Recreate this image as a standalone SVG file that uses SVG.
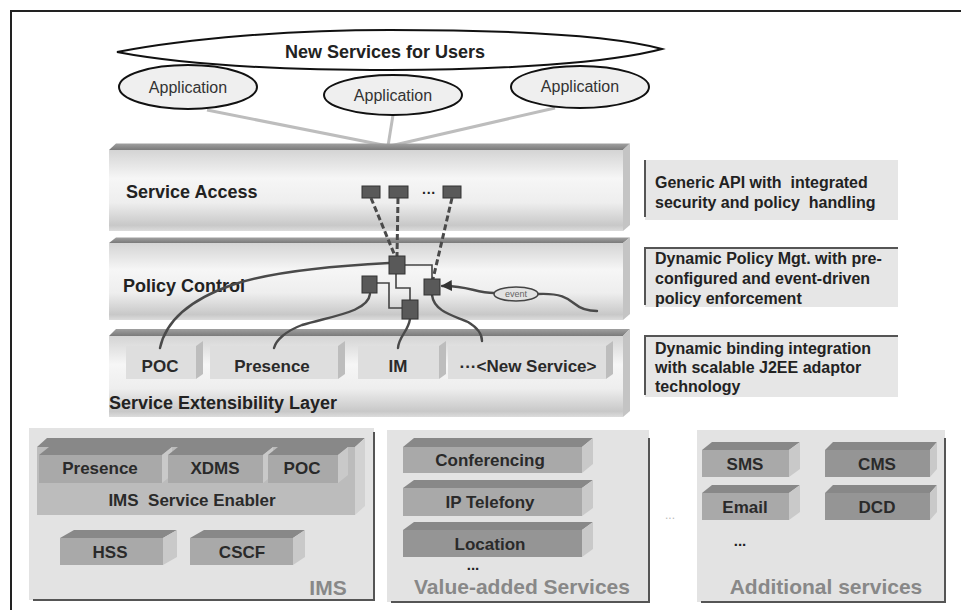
<svg xmlns="http://www.w3.org/2000/svg" width="961" height="610" viewBox="0 0 961 610">
<defs>
<linearGradient id="layerFront" x1="0" y1="0" x2="0" y2="1">
<stop offset="0" stop-color="#d4d4d4"/>
<stop offset="0.35" stop-color="#f6f6f6"/>
<stop offset="0.65" stop-color="#eeeeee"/>
<stop offset="0.93" stop-color="#c8c8c8"/>
<stop offset="1" stop-color="#dcdcdc"/>
</linearGradient>
<linearGradient id="layerTop" x1="0" y1="0" x2="0" y2="1">
<stop offset="0" stop-color="#a0a0a0"/>
<stop offset="1" stop-color="#7a7a7a"/>
</linearGradient>
<marker id="arrowL" viewBox="0 0 10 10" refX="9" refY="5" markerUnits="userSpaceOnUse" markerWidth="11" markerHeight="11" orient="auto">
<path d="M0,0 L10,5 L0,10 Z" fill="#333"/>
</marker>
</defs>
<style>
text { font-family: "Liberation Sans", Arial, sans-serif; }
.b { font-weight: bold; fill: #222; }
.t18 { font-size: 18px; }
.t17 { font-size: 17px; }
.t16 { font-size: 16px; }
.mid { text-anchor: middle; }
.app { fill: #efefef; stroke: #111; stroke-width: 2; }
.appt { font-size: 16px; fill: #333; text-anchor: middle; }
.front { fill: url(#layerFront); }
.topf { fill: url(#layerTop); }
.side { fill: #c4c4c4; }
.sub { fill: #dedede; }
.subside { fill: #bdbdbd; }
.sq { fill: #595959; stroke: #333; stroke-width: 1; }
.dash { fill: none; stroke: #4a4a4a; stroke-width: 3; stroke-dasharray: 6 3; }
.wire { fill: none; stroke: #444; stroke-width: 1.6; }
.wavy { fill: none; stroke: #4a4a4a; stroke-width: 2.4; stroke-linecap: round; }
.feed { fill: none; stroke: #bdbdbd; stroke-width: 3; }
.note { fill: #e6e6e6; }
.noteedge { stroke: #555; stroke-width: 2; fill: none; }
.panel { fill: #e3e3e3; }
.shadow { stroke: #555; stroke-width: 2; fill: none; }
.grey { font-weight: bold; font-size: 21px; fill: #888; text-anchor: middle; }
.sf { fill: #a9a9a9; }
.sfd { fill: #959595; }
.stop { fill: #888; }
.sside { fill: #c9c9c9; }
.sl { font-weight: bold; font-size: 17px; fill: #2a2a2a; text-anchor: middle; }
</style>
<rect width="961" height="610" fill="#fff"/>
<!-- outer frame -->
<path d="M11,610 L11,11 L961,11" fill="none" stroke="#222" stroke-width="2"/>

<!-- feed lines from applications -->
<g id="feeds">
<line class="feed" x1="207" y1="110" x2="388" y2="146"/>
<line class="feed" x1="393" y1="115" x2="388" y2="146"/>
<line class="feed" x1="555" y1="108" x2="390" y2="146"/>
</g>

<g id="new-services">
<path d="M117,52 C 190,38 290,30 390,30 C 500,30 610,35 662,49 C 610,63 500,70 390,70 C 290,70 190,66 117,52 Z" fill="#fff" stroke="#111" stroke-width="2"/>
<text class="b t18 mid" x="385" y="58">New Services for Users</text>
</g>
<g id="app1">
<ellipse class="app" cx="188" cy="87" rx="69" ry="22"/>
<text class="appt" x="188" y="92.5">Application</text>
</g>
<g id="app2">
<ellipse class="app" cx="393" cy="95" rx="69" ry="20"/>
<text class="appt" x="393" y="100.5">Application</text>
</g>
<g id="app3">
<ellipse class="app" cx="580" cy="87" rx="69" ry="21"/>
<text class="appt" x="580" y="92">Application</text>
</g>

<!-- layers -->
<g id="service-access">
<polygon class="topf" points="109,150 116,143.5 630,143.5 623,150"/>
<rect class="front" x="109" y="150" width="514" height="81"/>
<polygon class="side" points="623,150 630,143.5 630,225 623,231"/>
<text class="b t18" x="126" y="198">Service Access</text>
<rect class="sq" x="362" y="186" width="18" height="12"/>
<rect class="sq" x="389" y="186" width="19" height="12"/>
<text class="b" x="429" y="198" font-size="14" text-anchor="middle" fill="#333">···</text>
<rect class="sq" x="443" y="186" width="18" height="12"/>
</g>
<g id="policy-control">
<polygon class="topf" points="109,243 116,237.5 630,237.5 623,243"/>
<rect class="front" x="109" y="243" width="514" height="77"/>
<polygon class="side" points="623,243 630,237.5 630,314 623,320"/>
<text class="b t18" x="123" y="292">Policy Control</text>
</g>
<g id="extensibility-layer">
<polygon class="topf" points="109,336 116,329 630,329 623,336"/>
<rect class="front" x="109" y="336" width="514" height="81"/>
<polygon class="side" points="623,336 630,329 630,411 623,417"/>
<text class="b t18" x="109" y="409">Service Extensibility Layer</text>
</g>
<g id="poc">
<rect class="sub" x="126" y="346" width="70" height="33"/>
<polygon class="subside" points="196,346 203,341 203,374 196,379"/>
<text class="sl" x="160" y="372">POC</text>
</g>
<g id="presence">
<rect class="sub" x="210" y="346" width="128" height="33"/>
<polygon class="subside" points="338,346 345,341 345,374 338,379"/>
<text class="sl" x="272" y="372">Presence</text>
</g>
<g id="im">
<rect class="sub" x="358" y="346" width="81" height="33"/>
<polygon class="subside" points="439,346 446,341 446,374 439,379"/>
<text class="sl" x="398" y="372">IM</text>
</g>
<g id="new-service">
<rect class="sub" x="448" y="346" width="158" height="33"/>
<polygon class="subside" points="606,346 613,341 613,374 606,379"/>
<text class="sl" x="528" y="372">···&lt;New Service&gt;</text>
</g>

<!-- connectors -->
<g id="connectors">
<line class="dash" x1="371" y1="198" x2="395" y2="256"/>
<line class="dash" x1="398" y1="198" x2="397" y2="256"/>
<line class="dash" x1="452" y1="198" x2="433" y2="279"/>
<polyline class="wire" points="405,265 432,265 432,279"/>
<polyline class="wire" points="396,274 396,288 410,288 410,300"/>
<polyline class="wire" points="377,283 389,283 389,308 402,308"/>
<path class="wavy" d="M389,263 C 330,266 270,272 232,285 C 192,299 166,320 160,348"/>
<path class="wavy" d="M370,294 C 368,312 332,316 302,325 C 286,331 276,340 274,348"/>
<path class="wavy" d="M410,319 C 408,332 399,336 398,348"/>
<path class="wavy" d="M432,295 C 434,312 455,316 468,322 C 478,328 482,334 482,341"/>
<path class="wavy" d="M494,293 C 476,293 466,285 442,286" marker-end="url(#arrowL)"/>
<path class="wavy" d="M538,294 C 560,293 568,298 575,304 C 582,310 590,311 597,311"/>
</g>
<g id="policy-nodes">
<rect class="sq" x="389" y="256" width="16" height="18"/>
<rect class="sq" x="362" y="276" width="15" height="17"/>
<rect class="sq" x="402" y="300" width="16" height="19"/>
<rect class="sq" x="424" y="279" width="16" height="16"/>
</g>
<g id="event">
<ellipse cx="516" cy="294" rx="22" ry="7" fill="#e2e2e2" stroke="#444" stroke-width="1.5"/>
<text x="516" y="297" font-size="9" fill="#666" text-anchor="middle">event</text>
</g>

<!-- right notes -->
<g id="note-access">
<rect class="note" x="645" y="160" width="253" height="60"/>
<line class="noteedge" x1="645" y1="160" x2="645" y2="217"/>
<text class="b t16" x="655" y="187.5" xml:space="preserve">Generic API with  integrated</text>
<text class="b t16" x="655" y="207.5" xml:space="preserve">security and policy  handling</text>
</g>
<g id="note-policy">
<rect class="note" x="645" y="247" width="253" height="60"/>
<polyline class="noteedge" points="645,305 645,248 898,248"/>
<text class="b t16" x="655" y="264">Dynamic Policy Mgt. with pre-</text>
<text class="b t16" x="655" y="284">configured and event-driven</text>
<text class="b t16" x="655" y="304">policy enforcement</text>
</g>
<g id="note-binding">
<rect class="note" x="645" y="335" width="253" height="62"/>
<polyline class="noteedge" points="645,395 645,336 898,336"/>
<text class="b t16" x="655" y="354">Dynamic binding integration</text>
<text class="b t16" x="655" y="373">with scalable J2EE adaptor</text>
<text class="b t16" x="655" y="392">technology</text>
</g>

<!-- IMS panel -->
<g id="ims">
<rect class="panel" x="29" y="428" width="345" height="172"/>
<polyline class="shadow" points="33,600 374,600 374,432"/>
<text class="grey" x="328" y="595">IMS</text>
</g>
<g id="ims-enabler">
<polygon class="stop" points="37,447 47,438 365,438 355,447"/>
<rect x="37" y="447" width="318" height="68" fill="#bcbcbc"/>
<polygon points="355,447 365,438 365,506 355,515" fill="#d2d2d2"/>
<text class="sl" x="192" y="506" xml:space="preserve">IMS  Service Enabler</text>
</g>
<g id="ims-presence">
<polygon class="stop" points="39,455 49,447 172,447 162,455"/>
<rect class="sf" x="39" y="455" width="123" height="28"/>
<polygon class="sside" points="162,455 172,447 172,475 162,483"/>
<text class="sl" x="100" y="474">Presence</text>
</g>
<g id="ims-xdms">
<polygon class="stop" points="168,455 178,447 273,447 263,455"/>
<rect class="sf" x="168" y="455" width="95" height="28"/>
<polygon class="sside" points="263,455 273,447 273,475 263,483"/>
<text class="sl" x="215" y="474">XDMS</text>
</g>
<g id="ims-poc">
<polygon class="stop" points="268,455 278,447 348,447 338,455"/>
<rect class="sf" x="268" y="455" width="70" height="28"/>
<polygon class="sside" points="338,455 348,447 348,475 338,483"/>
<text class="sl" x="302" y="474">POC</text>
</g>
<g id="hss">
<polygon class="stop" points="60,538 74,530 177,530 163,538"/>
<rect class="sf" x="60" y="538" width="103" height="27"/>
<polygon class="sside" points="163,538 177,530 177,557 163,565"/>
<text class="sl" x="110" y="558">HSS</text>
</g>
<g id="cscf">
<polygon class="stop" points="190,538 204,530 305,530 293,538"/>
<rect class="sf" x="190" y="538" width="103" height="27"/>
<polygon class="sside" points="293,538 305,530 305,557 293,565"/>
<text class="sl" x="242" y="558">CSCF</text>
</g>

<!-- Value-added services panel -->
<g id="vas">
<rect class="panel" x="387" y="430" width="262" height="172"/>
<polyline class="shadow" points="391,602 649,602 649,438"/>
<text class="b" x="473" y="570" font-size="15" text-anchor="middle" fill="#333">...</text>
<text class="grey" x="522" y="594">Value-added Services</text>
</g>
<g id="conferencing">
<polygon class="stop" points="403,447 414,438 593,438 582,447"/>
<rect class="sf" x="403" y="447" width="179" height="26"/>
<polygon class="sside" points="582,447 593,438 593,464 582,473"/>
<text class="sl" x="490" y="466">Conferencing</text>
</g>
<g id="ip-telefony">
<polygon class="stop" points="403,488 414,480 593,480 582,488"/>
<rect class="sf" x="403" y="488" width="179" height="28"/>
<polygon class="sside" points="582,488 593,480 593,508 582,516"/>
<text class="sl" x="490" y="508">IP Telefony</text>
</g>
<g id="location">
<polygon class="stop" points="403,530 414,522 593,522 582,530"/>
<rect class="sfd" x="403" y="530" width="179" height="27"/>
<polygon class="sside" points="582,530 593,522 593,549 582,557"/>
<text class="sl" x="490" y="550">Location</text>
</g>
<text x="670" y="519" font-size="12" fill="#bbb" text-anchor="middle" font-family="Liberation Sans, sans-serif">...</text>

<!-- Additional services panel -->
<g id="additional">
<rect class="panel" x="697" y="430" width="248" height="172"/>
<polyline class="shadow" points="701,602 945,602 945,438"/>
<text class="b" x="740" y="546" font-size="15" text-anchor="middle" fill="#333">...</text>
<text class="grey" x="826" y="594">Additional services</text>
</g>
<g id="sms">
<polygon class="stop" points="702,450 712,442 800,442 789,450"/>
<rect class="sf" x="702" y="450" width="87" height="27"/>
<polygon class="sside" points="789,450 800,442 800,469 789,477"/>
<text class="sl" x="745" y="470">SMS</text>
</g>
<g id="cms">
<polygon class="stop" points="825,450 833,442 937,442 930,450"/>
<rect class="sfd" x="825" y="450" width="105" height="27"/>
<polygon class="sside" points="930,450 937,442 937,469 930,477"/>
<text class="sl" x="877" y="470">CMS</text>
</g>
<g id="email">
<polygon class="stop" points="702,493 712,485 800,485 789,493"/>
<rect class="sf" x="702" y="493" width="87" height="27"/>
<polygon class="sside" points="789,493 800,485 800,512 789,520"/>
<text class="sl" x="745" y="513">Email</text>
</g>
<g id="dcd">
<polygon class="stop" points="825,493 833,485 937,485 930,493"/>
<rect class="sfd" x="825" y="493" width="105" height="27"/>
<polygon class="sside" points="930,493 937,485 937,512 930,520"/>
<text class="sl" x="877" y="513">DCD</text>
</g>
</svg>
